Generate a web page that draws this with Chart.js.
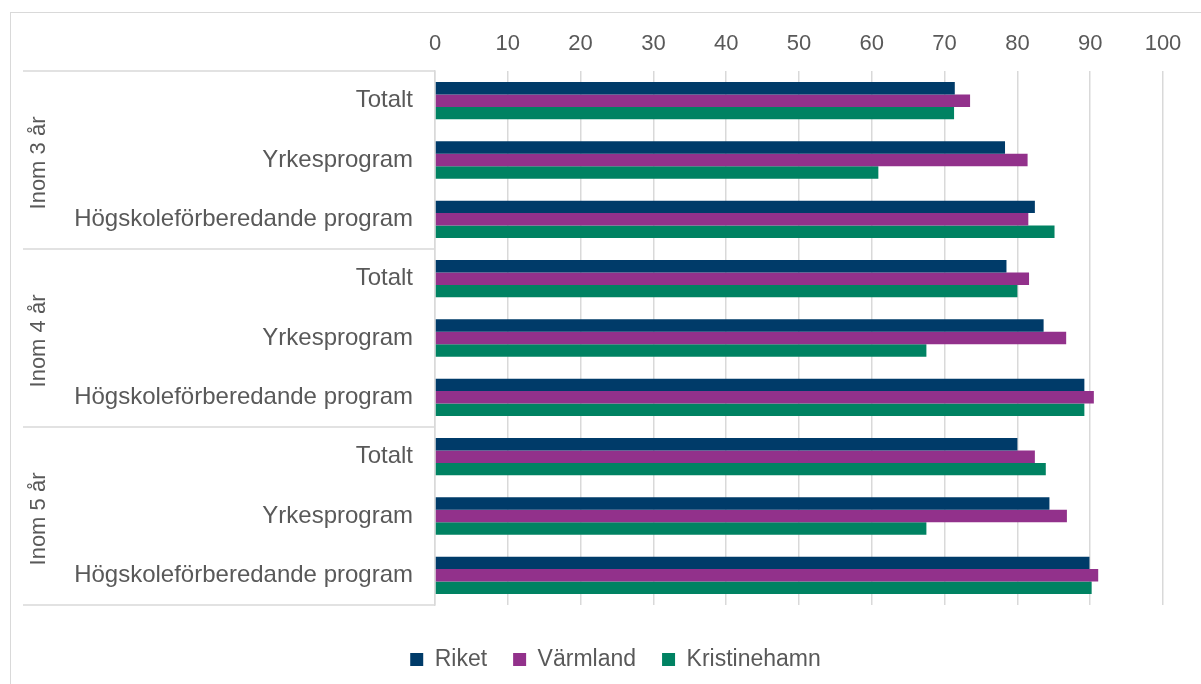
<!DOCTYPE html>
<html>
<head>
<meta charset="utf-8">
<script src="https://cdn.jsdelivr.net/npm/chart.js@4"></script>
<style>
  body { margin: 0; background: #fff; }
  #wrap { position: relative; width: 1201px; height: 684px; overflow: hidden; }
  #frame { position: absolute; left: 10px; top: 12px; width: 1220px; height: 720px; border: 1.5px solid #d9d9d9; box-sizing: border-box; }
  #reportCanvas { position: absolute; left: 0; top: 0; }
</style>
</head>
<body>
<div id="wrap">
  <div id="frame"></div>
  <canvas id="reportCanvas" width="1201" height="684"></canvas>
</div>
<script>
const categories = ['Totalt', 'Yrkesprogram', 'Högskoleförberedande program',
                    'Totalt', 'Yrkesprogram', 'Högskoleförberedande program',
                    'Totalt', 'Yrkesprogram', 'Högskoleförberedande program'];
const groups = ['Inom 3 år', 'Inom 4 år', 'Inom 5 år'];
const riket = [71.4, 78.3, 82.4, 78.5, 83.6, 89.2, 80.0, 84.4, 89.9];
const varmland = [73.5, 81.4, 81.5, 81.6, 86.7, 90.5, 82.4, 86.8, 91.1];
const kristinehamn = [71.3, 60.9, 85.1, 80.0, 67.5, 89.2, 83.9, 67.5, 90.2];
const xTicks = [0, 10, 20, 30, 40, 50, 60, 70, 80, 90, 100];

const grey = '#595959';
const lineGrey = '#d9d9d9';
const font = 'Liberation Sans, Arial, sans-serif';

// group labels + separators on the left
const groupPlugin = {
  id: 'groupPlugin',
  afterDraw(chart) {
    const ctx = chart.ctx;
    const y = chart.scales.y;
    const left = chart.chartArea.left;
    const per = categories.length / groups.length;
    const band = (y.bottom - y.top) / categories.length;
    ctx.save();
    ctx.strokeStyle = lineGrey;
    ctx.lineWidth = 1.5;
    for (let g = 0; g <= groups.length; g++) {
      const yy = y.top + g * per * band;
      ctx.beginPath();
      ctx.moveTo(23, yy);
      ctx.lineTo(left, yy);
      ctx.stroke();
    }
    ctx.fillStyle = grey;
    ctx.font = '22px ' + font;
    ctx.textAlign = 'center';
    ctx.textBaseline = 'middle';
    groups.forEach((name, g) => {
      const cy = y.top + (g + 0.5) * per * band + 3;
      ctx.save();
      ctx.translate(39, cy);
      ctx.rotate(-Math.PI / 2);
      ctx.fillText(name, 0, 0);
      ctx.restore();
    });
    ctx.restore();
  }
};

const canvas = document.getElementById('reportCanvas');
new Chart(canvas, {
  type: 'bar',
  data: {
    labels: categories,
    datasets: [
      { label: 'Riket', data: riket, backgroundColor: '#003b69' },
      { label: 'Värmland', data: varmland, backgroundColor: '#92318b' },
      { label: 'Kristinehamn', data: kristinehamn, backgroundColor: '#008262' },
    ],
  },
  options: {
    indexAxis: 'y',
    responsive: false,
    animation: false,
    // padding + dummy axes keep the plot at 435..1163 and centre the legend like the original
    layout: { padding: { left: 34, right: 4, top: 0, bottom: 3 } },
    datasets: { bar: { categoryPercentage: 0.63, barPercentage: 1 } },
    scales: {
      x: {
        position: 'top',
        min: 0, max: 100,
        afterBuildTicks: (s) => { s.ticks = xTicks.map(v => ({ value: v })); },
        afterFit: (s) => { s.height = 71; },
        grid: { color: lineGrey, lineWidth: 1.5, drawTicks: false },
        border: { display: false },
        ticks: { color: grey, font: { size: 22, family: font }, padding: 14 },
      },
      x2: {
        position: 'bottom',
        display: true,
        afterFit: (s) => { s.height = 17; },
        grid: { display: false, drawTicks: false },
        border: { display: false },
        ticks: { display: false },
      },
      y: {
        afterFit: (s) => { s.width = 401; },
        grid: { display: false, drawTicks: false },
        border: { display: true, color: lineGrey, width: 1.5 },
        ticks: { color: grey, font: { size: 24, family: font }, padding: 22, autoSkip: false },
      },
      y2: {
        type: 'linear',
        position: 'right',
        display: true,
        afterFit: (s) => { s.width = 34; },
        grid: { display: false, drawTicks: false },
        border: { display: false },
        ticks: { display: false },
      },
    },
    plugins: {
      legend: {
        position: 'bottom',
        labels: {
          color: grey,
          font: { size: 23, family: font },
          boxWidth: 13, boxHeight: 13,
          padding: 26,
        },
      },
      tooltip: { enabled: false },
    },
  },
  plugins: [groupPlugin],
});
</script>
</body>
</html>
